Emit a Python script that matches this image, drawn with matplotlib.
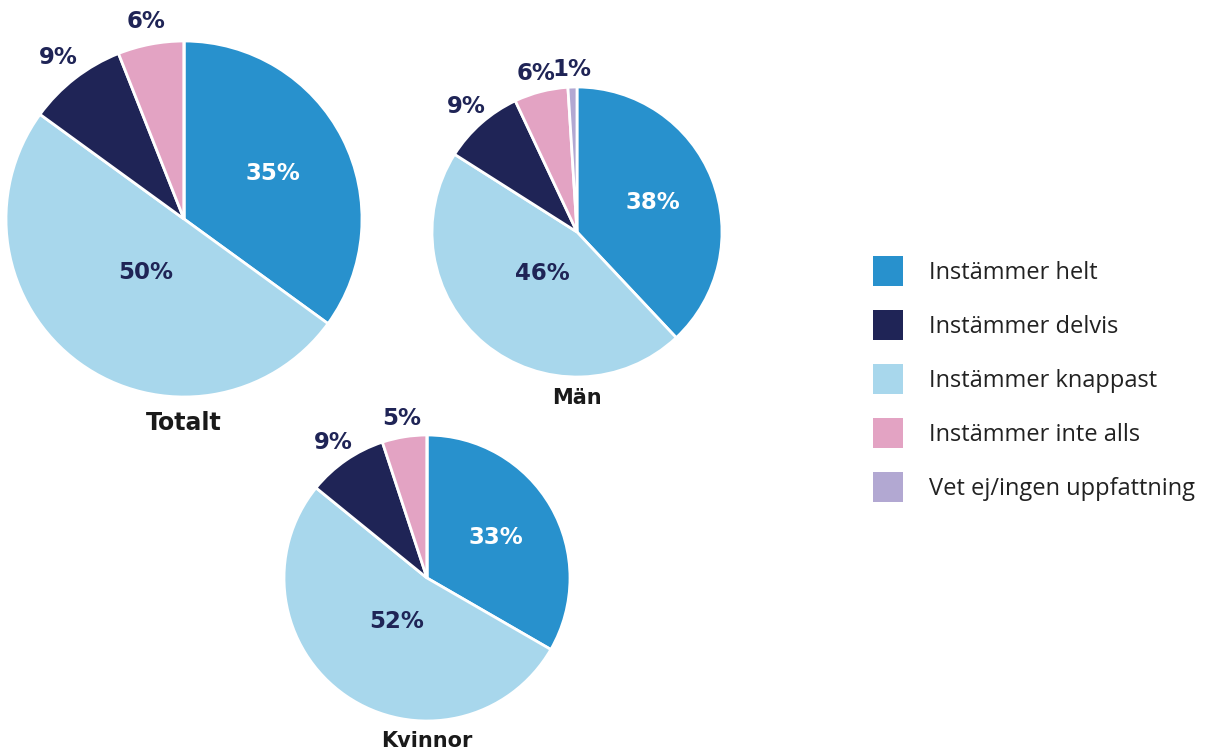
import numpy as np
import matplotlib
matplotlib.use("Agg")
from matplotlib import pyplot as plt

# answer categories (legend order) and colours
categories = ["Instämmer helt", "Instämmer delvis", "Instämmer knappast",
              "Instämmer inte alls", "Vet ej/ingen uppfattning"]
colors = ["#2891cd", "#1f2456", "#a8d7ec", "#e3a3c3", "#b2a8d2"]

# shares in percent, same order as categories
totalt = [35, 9, 50, 6, 0]
man = [38, 9, 46, 6, 1]
kvinnor = [33, 9, 52, 5, 0]

groups = ["Totalt", "Män", "Kvinnor"]

# order the slices go clockwise from 12 o'clock
draw_order = [0, 2, 1, 3, 4]

W, H = 1219, 753
plt.rcParams['font.family'] = ['Open Sans', 'DejaVu Sans']
BOLD = ['DejaVu Sans']

fig = plt.figure(figsize=(W / 100, H / 100), dpi=100)
ax = fig.add_axes([0, 0, 1, 1])

# pie placement in pixels: (cx, cy, radius, title size, title gap)
layout = {
    "Totalt": (184, 219, 178, 17, 26),
    "Män": (577, 232, 145, 15, 21),
    "Kvinnor": (427, 578, 143, 15, 20),
}
# how far out the percent label sits, per category
label_dist = [0.56, 1.15, 0.37, 1.13, 1.12]
label_col = ["white", "#1f2456", "#1f2456", "#1f2456", "#1f2456"]

handles = None
for name, vals in zip(groups, [totalt, man, kvinnor]):
    cx, cy, r, tsize, gap = layout[name]
    cy = H - cy
    v = [vals[i] for i in draw_order]
    c = [colors[i] for i in draw_order]
    wedges, _ = ax.pie(v, colors=c, startangle=90, counterclock=False,
                       center=(cx, cy), radius=r,
                       wedgeprops=dict(edgecolor="white", linewidth=2))
    if name == "Män":
        handles = [wedges[draw_order.index(i)] for i in range(len(categories))]
    for w, i in zip(wedges, draw_order):
        if vals[i] == 0:
            continue
        ang = np.deg2rad((w.theta1 + w.theta2) / 2)
        d = label_dist[i] * r
        ax.text(cx + d * np.cos(ang), cy + d * np.sin(ang), f"{vals[i]}%",
                ha="center", va="center", fontsize=16.5, fontweight="bold",
                color=label_col[i], family=BOLD)
    ax.text(cx, cy - r - gap, name, ha="center", va="center",
            fontsize=tsize, fontweight="bold", color="#1a1a1a", family=BOLD)

ax.legend(handles, categories, loc="upper left",
          bbox_to_anchor=(873 / W, 1 - 256 / H), frameon=False,
          fontsize=17, handlelength=1.27, handleheight=1.58,
          handletextpad=1.1, labelspacing=1.02, borderpad=0,
          borderaxespad=0, labelcolor="#222222")
for h in ax.get_legend().legend_handles:
    h.set_edgecolor("none")

ax.set_xlim(0, W)
ax.set_ylim(0, H)
ax.set_aspect("equal")
ax.axis("off")

fig.savefig("out.png", dpi=100, facecolor="white")
